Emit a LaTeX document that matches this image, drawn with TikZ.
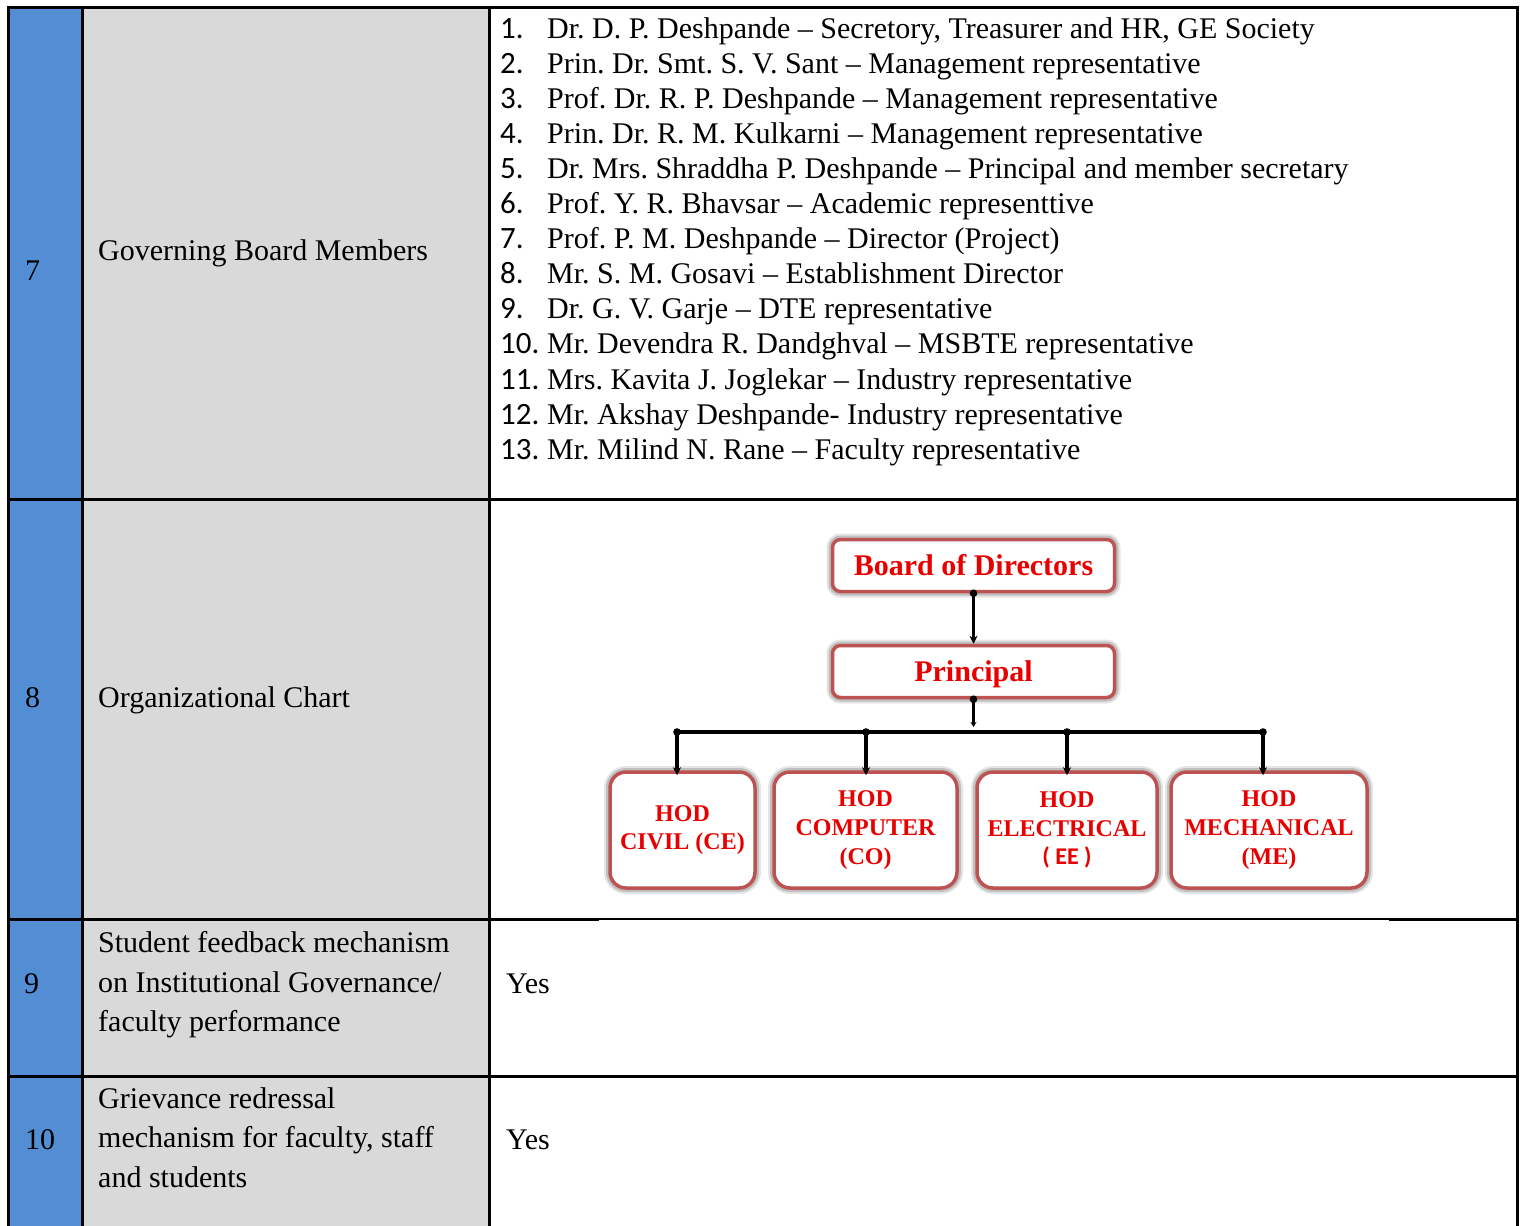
\documentclass[tikz,border=0pt]{standalone}
\usepackage{fontspec}
\setmainfont{Liberation Serif}
\newfontfamily\numfont{Carlito}
\usetikzlibrary{arrows.meta}
\definecolor{cellblue}{RGB}{83,142,213}
\definecolor{cellgray}{RGB}{217,217,217}
\definecolor{boxred}{RGB}{188,82,82}
\definecolor{txtred}{RGB}{232,0,0}
\frenchspacing
\begin{document}
\begin{tikzpicture}[x=1pt,y=-1pt,
  rule/.style={line width=3pt, black, line cap=rect},
  thinrule/.style={line width=1.5pt, black},
  celltxt/.style={anchor=base west, inner sep=0pt, font=\fontsize{30}{36}\selectfont},
  numtxt/.style={anchor=base west, inner sep=0pt, font=\numfont\fontsize{31}{36}\selectfont},
  orgbase/.style={draw=boxred, line width=3.5pt, fill=white, text=txtred, inner sep=0pt,
    preaction={draw=black, opacity=0.10, line width=12pt},
    preaction={draw=black, opacity=0.16, line width=8pt}},
  topbox/.style={orgbase, rounded corners=8pt, font=\bfseries\fontsize{30}{36}\selectfont,
    minimum width=282pt, minimum height=52pt, text height=20.4pt, text depth=0pt},
  hodbox/.style={orgbase, rounded corners=16pt, align=center, minimum height=116pt,
    font=\bfseries\fontsize{24}{28.7}\selectfont},
  link/.style={line width=3.2pt, black},
  conn/.style={link, -{Stealth[length=8pt,width=8pt]}},
  dotc/.style={fill=black}
]
\useasboundingbox (0,0) rectangle (1527,1226);
\fill[white] (0,0) rectangle (1527,1226);
% cell backgrounds
\fill[cellblue] (8,7) rectangle (82,1226);
\fill[cellgray] (82,7) rectangle (489,1226);
% rules
\draw[rule, line join=miter] (8,1226) -- (8,7) -- (1517,7) -- (1517,1226);
\draw[rule] (82,7) -- (82,1226);
\draw[rule] (489,7) -- (489,1226);
\draw[rule] (8,499) -- (1517,499);
\draw[rule] (8,919) -- (597,919);
\draw[thinrule] (597,919) -- (1390,919);
\draw[rule] (1390,919) -- (1517,919);
\draw[rule] (8,1076) -- (1517,1076);

% column 1 numbers
\node[celltxt] (n7) at (25,280) {7};
\node[celltxt] (n8) at (25,707) {8};
\node[celltxt] (n9) at (24,993) {9};
\node[celltxt] (n10) at (25,1149) {10};

% column 2 labels
\node[celltxt] (l7) at (98,260) {Governing Board Members};
\node[celltxt] (l8) at (98,707) {Organizational Chart};
\node[celltxt] (l9a) at (98,952.7) {Student feedback mechanism};
\node[celltxt] (l9b) at (98,992.2) {on Institutional Governance/};
\node[celltxt] (l9c) at (98,1031.7) {faculty performance};
\node[celltxt] (l10a) at (98,1108) {Grievance redressal};
\node[celltxt] (l10b) at (98,1147.5) {mechanism for faculty, staff};
\node[celltxt] (l10c) at (98,1187) {and students};

% column 3: list of members
\node[numtxt] (k1) at (500,38) {1.};
\node[celltxt] (m1) at (547,38) {Dr. D. P. Deshpande – Secretory, Treasurer and HR, GE Society};
\node[numtxt] (k2) at (500,73.1) {2.};
\node[celltxt] (m2) at (547,73.1) {Prin. Dr. Smt. S. V. Sant – Management representative};
\node[numtxt] (k3) at (500,108.2) {3.};
\node[celltxt] (m3) at (547,108.2) {Prof. Dr. R. P. Deshpande – Management representative};
\node[numtxt] (k4) at (500,143.3) {4.};
\node[celltxt] (m4) at (547,143.3) {Prin. Dr. R. M. Kulkarni – Management representative};
\node[numtxt] (k5) at (500,178.4) {5.};
\node[celltxt] (m5) at (547,178.4) {Dr. Mrs. Shraddha P. Deshpande – Principal and member secretary};
\node[numtxt] (k6) at (500,213.5) {6.};
\node[celltxt] (m6) at (547,213.5) {Prof. Y. R. Bhavsar – Academic representtive};
\node[numtxt] (k7) at (500,248.6) {7.};
\node[celltxt] (m7) at (547,248.6) {Prof. P. M. Deshpande – Director (Project)};
\node[numtxt] (k8) at (500,283.7) {8.};
\node[celltxt] (m8) at (547,283.7) {Mr. S. M. Gosavi – Establishment Director};
\node[numtxt] (k9) at (500,318.8) {9.};
\node[celltxt] (m9) at (547,318.8) {Dr. G. V. Garje – DTE representative};
\node[numtxt] (k10) at (500,353.9) {10.};
\node[celltxt] (m10) at (547,353.9) {Mr. Devendra R. Dandghval – MSBTE representative};
\node[numtxt] (k11) at (500,389) {11.};
\node[celltxt] (m11) at (547,389) {Mrs. Kavita J. Joglekar – Industry representative};
\node[numtxt] (k12) at (500,424.1) {12.};
\node[celltxt] (m12) at (547,424.1) {Mr. Akshay Deshpande- Industry representative};
\node[numtxt] (k13) at (500,459.2) {13.};
\node[celltxt] (m13) at (547,459.2) {Mr. Milind N. Rane – Faculty representative};

% column 3: yes
\node[celltxt] (y9) at (506,993) {Yes};
\node[celltxt] (y10) at (506,1149) {Yes};

% organizational chart
\node[topbox] (bod) at (973.5,565.5) {Board of Directors};
\node[topbox] (prin) at (973.5,671.5) {Principal};
\node[hodbox, minimum width=145pt] (hce) at (682.5,830) {HOD\\CIVIL (CE)};
\node[hodbox, minimum width=183pt] (hco) at (865.5,830) {HOD\\COMPUTER\\(CO)};
\node[hodbox, minimum width=180pt] (hee) at (1067,830) {HOD\\ELECTRICAL\\{\numfont ( EE )}};
\node[hodbox, minimum width=196pt] (hme) at (1269,830) {HOD\\MECHANICAL\\(ME)};

\coordinate (jn) at (973.5,732);
\coordinate (b1) at (677,732);
\coordinate (b2) at (866,732);
\coordinate (b3) at (1067,732);
\coordinate (b4) at (1263,732);

\draw[conn] (bod.south) -- (prin.north);
\draw[link, -{Stealth[length=5pt,width=6pt]}] (prin.south) -- ([yshift=5pt]jn);
\draw[link] (b1) -- (b4);
\draw[conn] (b1) -- ([yshift=-5pt]b1 |- hce.north);
\draw[conn] (b2) -- ([yshift=-5pt]b2 |- hco.north);
\draw[conn] (b3) -- ([yshift=-5pt]b3 |- hee.north);
\draw[conn] (b4) -- ([yshift=-5pt]b4 |- hme.north);
\fill[dotc] (bod.south) circle[radius=3.8pt];
\fill[dotc] (prin.south) circle[radius=3.8pt];
\fill[dotc] (b1) circle[radius=3.8pt];
\fill[dotc] (b2) circle[radius=3.8pt];
\fill[dotc] (b3) circle[radius=3.8pt];
\fill[dotc] (b4) circle[radius=3.8pt];
\end{tikzpicture}
\end{document}
